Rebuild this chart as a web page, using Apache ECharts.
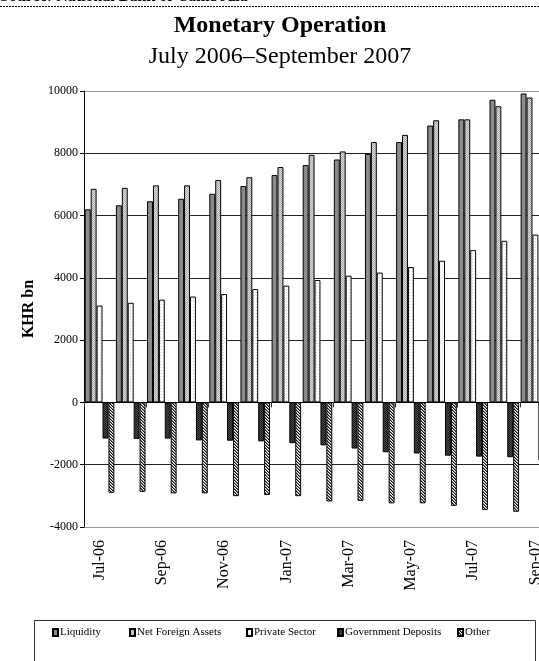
<!DOCTYPE html>
<html>
<head>
<meta charset="utf-8">
<script src="https://cdn.jsdelivr.net/npm/echarts@6/dist/echarts.min.js"></script>
<style>
html,body{margin:0;padding:0;background:#fff;overflow:hidden;width:539px;height:661px;}
#chart{width:556px;height:661px;}
</style>
</head>
<body>
<div id="chart"></div>
<script>
const categories = ['Jul-06','Aug-06','Sep-06','Oct-06','Nov-06','Dec-06','Jan-07','Feb-07','Mar-07','Apr-07','May-07','Jun-07','Jul-07','Aug-07','Sep-07'];
const liquidity = [6200,6330,6460,6540,6700,6950,7300,7620,7800,7980,8360,8890,9090,9720,9920];
const netForeignAssets = [6860,6890,6970,6970,7140,7230,7560,7950,8060,8360,8590,9060,9090,9510,9790];
const privateSector = [3110,3200,3300,3400,3480,3640,3750,3930,4070,4170,4350,4550,4890,5190,5390];
const governmentDeposits = [-1160,-1170,-1160,-1220,-1230,-1250,-1310,-1380,-1480,-1600,-1640,-1710,-1740,-1760,-1860];
const other = [-2900,-2870,-2920,-2920,-3010,-2970,-3010,-3180,-3160,-3240,-3240,-3320,-3450,-3510,-3600];
const seriesNames = ['Liquidity','Net Foreign Assets','Private Sector','Government Deposits','Other'];
const yTicks = {min:-4000, max:10000, interval:2000};

function makePattern(size, fn){
  const c = document.createElement('canvas');
  c.width = size; c.height = size;
  const ctx = c.getContext('2d');
  for(let y=0;y<size;y++){for(let x=0;x<size;x++){ctx.fillStyle = fn(x,y); ctx.fillRect(x,y,1,1);}}
  return {image:c, repeat:'repeat'};
}
const patLiq = '#8c8c8c';
const patNfa = makePattern(2,(x,y)=> ((x+y)%2===0) ? '#a9a9a9' : '#dcdcdc');
const patPriv = makePattern(3,(x,y)=> (x===1&&y===1) ? '#c8c8c8' : '#ffffff');
const patGov = makePattern(2,(x,y)=> ((x+y)%2===0) ? '#1a1a1a' : '#4a4a4a');
const patOther = makePattern(3,(x,y)=> ((x - y + 3) % 3 === 0) ? '#111111' : (((x - y + 3) % 3 === 1) ? '#888888' : '#ffffff'));
const fills = [patLiq, patNfa, patPriv, patGov, patOther];
const dataArr = [liquidity, netForeignAssets, privateSector, governmentDeposits, other];

const FONT = '"Liberation Serif", "Times New Roman", serif';
const chart = echarts.init(document.getElementById('chart'), null, {renderer:'canvas'});

const legendLefts = [52, 129, 246, 337, 457];

const option = {
  animation:false,
  backgroundColor:'#fff',
  grid:{left:84, top:91, right:5, bottom:134, containLabel:false},
  legend: seriesNames.map((n,i)=>({
    data:[n], left:legendLefts[i], top:627, icon:'rect', itemWidth:5, itemHeight:7, itemGap:0, padding:0,
    textStyle:{fontFamily:FONT, fontSize:11, color:'#000', padding:[0,0,0,-3]}
  })),
  xAxis:[
    {type:'category', data:categories, position:'bottom',
     axisLine:{show:true, onZero:true, lineStyle:{color:'#000', width:1}},
     axisTick:{show:true, interval:1, length:5, lineStyle:{color:'#333'}},
     axisLabel:{show:false}, splitLine:{show:false}},
    {type:'category', data:categories, position:'bottom',
     axisLine:{show:false, onZero:false}, axisTick:{show:false},
     axisLabel:{show:true, interval:1, rotate:90, margin:13, fontFamily:FONT, fontSize:16, color:'#000'},
     splitLine:{show:false}}
  ],
  yAxis:{type:'value', min:yTicks.min, max:yTicks.max, interval:yTicks.interval,
    name:'KHR bn', nameLocation:'middle', nameRotate:90, nameGap:40,
    nameTextStyle:{fontFamily:FONT, fontSize:16, fontWeight:'bold', color:'#000'},
    axisLine:{show:true, lineStyle:{color:'#000', width:1}},
    axisTick:{show:true, length:4, lineStyle:{color:'#000'}},
    axisLabel:{fontFamily:FONT, fontSize:12, color:'#000', margin:6, formatter:v=>String(v)},
    splitLine:{show:true, lineStyle:{color:['#999','#222','#222','#222','#222','#222','#222','#999'], width:1}}
  },
  series: seriesNames.map((n,i)=>({
    name:n, type:'bar', xAxisIndex:0, data:dataArr[i], barGap:'0%', barCategoryGap:'5%',
    itemStyle:{color:fills[i], borderColor:'#000', borderWidth:1}
  })),
  graphic:[
    {type:'text', left:0, top:-11, style:{text:'Source: National Bank of Cambodia', font:'bold 16px '+FONT, fill:'#000'}},
    {type:'line', shape:{x1:0,y1:6.5,x2:539,y2:6.5}, style:{stroke:'#000', lineWidth:1, lineDash:[2,1]}},
    {type:'text', x:280, y:14, style:{text:'Monetary Operation', font:'bold 24px '+FONT, fill:'#000', textAlign:'center', textVerticalAlign:'top'}},
    {type:'text', x:280, y:45, style:{text:'July 2006\u2013September 2007', font:'24px '+FONT, fill:'#000', textAlign:'center', textVerticalAlign:'top'}},
    {type:'rect', shape:{x:34.5, y:620.5, width:501, height:60}, style:{fill:'none', stroke:'#333', lineWidth:1}}
  ]
};
chart.setOption(option);
</script>
</body>
</html>
